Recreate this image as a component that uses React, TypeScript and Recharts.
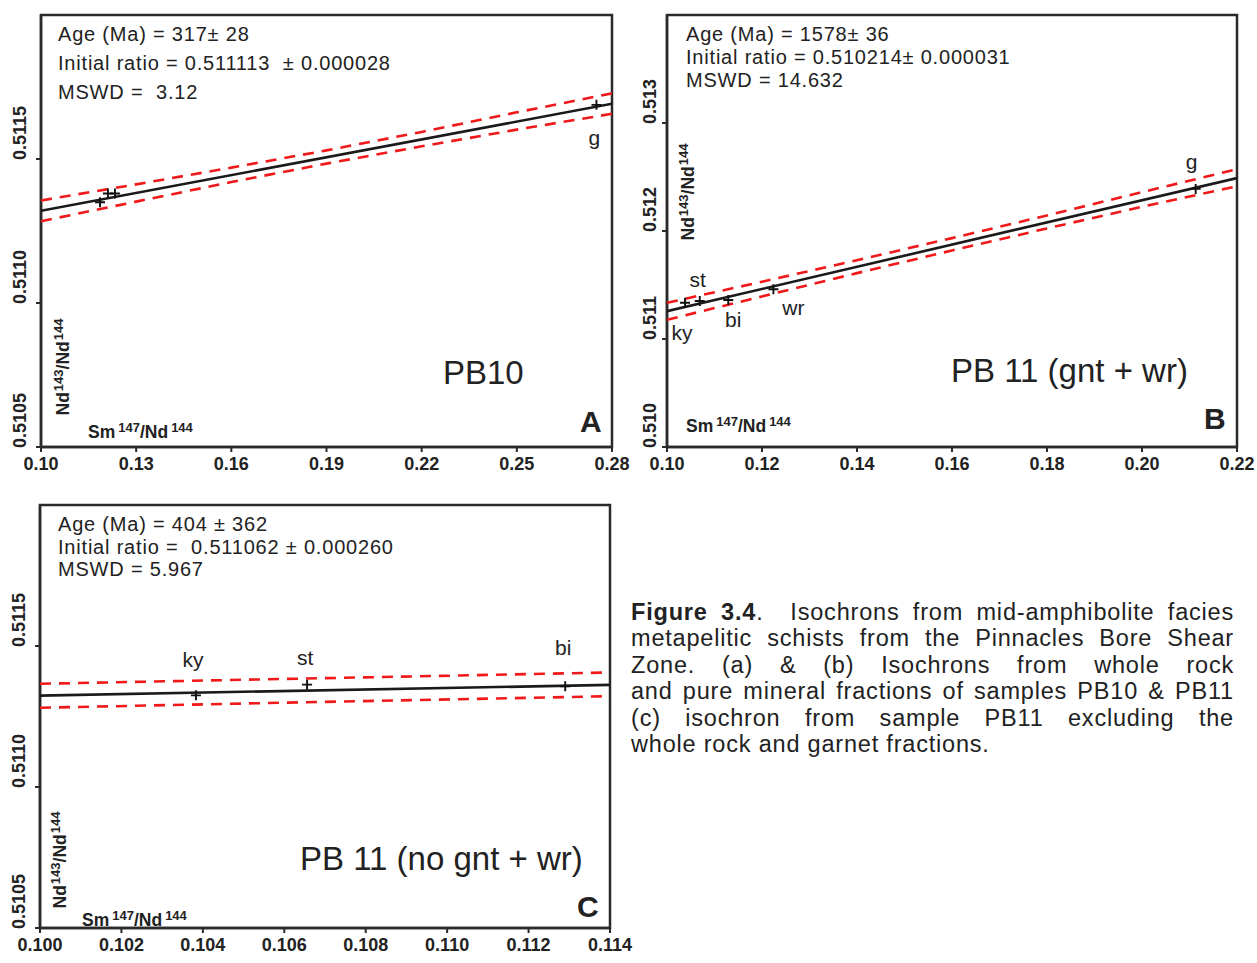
import React from 'react';
import { ScatterChart, Scatter, XAxis, YAxis, ReferenceArea } from 'recharts';

const FONT = '"Liberation Sans", Arial, Helvetica, sans-serif';
const INK = '#222';
const RED = '#f01818';

// ---------- Panel A (PB10) ----------
const xTicksA = [0.1, 0.13, 0.16, 0.19, 0.22, 0.25, 0.28];
const yTicksA = [0.5105, 0.511, 0.5115];
const isoA_x = [0.1, 0.28];
const isoA_y = [0.51132, 0.511692];
const envA_x = [0.1, 0.13, 0.16, 0.19, 0.22, 0.25, 0.28];
const envA_upper = [0.511356, 0.511412, 0.51147, 0.51153, 0.511594, 0.511662, 0.511728];
const envA_lower = [0.511284, 0.511352, 0.51142, 0.511484, 0.511544, 0.511602, 0.511657];
const ptsA_label = ['', '', '', 'g'];
const ptsA_x = [0.1186, 0.1211, 0.1233, 0.2751];
const ptsA_y = [0.51135, 0.51138, 0.51138, 0.511688];

// ---------- Panel B (PB 11 gnt + wr) ----------
const xTicksB = [0.1, 0.12, 0.14, 0.16, 0.18, 0.2, 0.22];
const yTicksB = [0.51, 0.511, 0.512, 0.513];
const isoB_x = [0.1, 0.22];
const isoB_y = [0.511258, 0.51249];
const envB_x = [0.1, 0.12, 0.14, 0.16, 0.18, 0.2, 0.22];
const envB_upper = [0.511335, 0.51153, 0.51173, 0.511934, 0.512144, 0.51236, 0.512572];
const envB_lower = [0.511178, 0.511394, 0.51161, 0.51182, 0.512024, 0.512224, 0.512414];
const ptsB_label = ['ky', 'st', 'bi', 'wr', 'g'];
const ptsB_x = [0.1038, 0.1069, 0.1129, 0.1224, 0.2113];
const ptsB_y = [0.511336, 0.511352, 0.511361, 0.51146, 0.51239];

// ---------- Panel C (PB 11 no gnt + wr) ----------
const xTicksC = [0.1, 0.102, 0.104, 0.106, 0.108, 0.11, 0.112, 0.114];
const yTicksC = [0.5105, 0.511, 0.5115];
const isoC_x = [0.1, 0.114];
const isoC_y = [0.511324, 0.511362];
const envC_x = [0.1, 0.107, 0.114];
const envC_upper = [0.511366, 0.511386, 0.511406];
const envC_lower = [0.511281, 0.511302, 0.511322];
const ptsC_label = ['ky', 'st', 'bi'];
const ptsC_x = [0.10383, 0.10656, 0.1129];
const ptsC_y = [0.511325, 0.511363, 0.511357];

const zip = (xs: number[], ys: number[], labels?: string[]) =>
  xs.map((x, i) => ({ x, y: ys[i], label: labels ? labels[i] : '' }));

// label placement (style), keyed by point label
const labelOffsetsA: Record<string, [number, number]> = { g: [-2, 33] };
const labelOffsetsB: Record<string, [number, number]> = {
  ky: [-3, 30],
  st: [-2, -21],
  bi: [5, 19],
  wr: [20, 18],
  g: [-4, -27],
};
const labelOffsetsC: Record<string, [number, number]> = {
  ky: [-3, -36],
  st: [-2, -27],
  bi: [-2, -39],
};

const NoShape = () => <g />;

const makeCross = (offsets: Record<string, [number, number]>) => (props: any) => {
  const { cx, cy, payload } = props;
  if (cx == null || cy == null) return <g />;
  const off = payload && payload.label ? offsets[payload.label] : undefined;
  return (
    <g>
      <path
        d={`M${cx - 5},${cy}H${cx + 5}M${cx},${cy - 5}V${cy + 5}`}
        stroke="#111"
        strokeWidth={1.9}
        fill="none"
      />
      {off && (
        <text
          x={cx + off[0]}
          y={cy + off[1]}
          textAnchor="middle"
          dominantBaseline="central"
          fontFamily={FONT}
          fontSize={21}
          fill={INK}
        >
          {payload.label}
        </text>
      )}
    </g>
  );
};

const makeYTick = (digits: number, gap: number) => (props: any) => {
  const { x, y, payload } = props;
  const bx = x - gap;
  return (
    <text
      x={bx}
      y={y + 1}
      transform={`rotate(-90 ${bx} ${y + 1})`}
      textAnchor="start"
      fontFamily={FONT}
      fontSize={18}
      fontWeight={700}
      fill={INK}
    >
      {Number(payload.value).toFixed(digits)}
    </text>
  );
};

type Pt = { x: number; y: number; label: string };
type PanelProps = {
  width: number;
  height: number;
  margin: { top: number; right: number; bottom: number; left: number };
  yAxisWidth: number;
  xDomain: [number, number];
  yDomain: [number, number];
  xTicks: number[];
  yTicks: number[];
  xDigits: number;
  yDigits: number;
  yGap: number;
  iso: Pt[];
  upper: Pt[];
  lower: Pt[];
  pts: Pt[];
  offsets: Record<string, [number, number]>;
};

const Panel = (p: PanelProps) => {
  const axisStroke = { stroke: '#2a2a2a', strokeWidth: 2.5 };
  return (
    <ScatterChart width={p.width} height={p.height} margin={p.margin}>
      <XAxis
        type="number"
        dataKey="x"
        domain={p.xDomain}
        ticks={p.xTicks}
        interval={0}
        allowDataOverflow
        height={30}
        tickSize={5}
        tickMargin={5}
        axisLine={axisStroke}
        tickLine={{ stroke: '#2a2a2a', strokeWidth: 2 }}
        tickFormatter={(v: number) => v.toFixed(p.xDigits)}
        tick={{ fontFamily: FONT, fontSize: 18, fontWeight: 700, fill: INK }}
      />
      <YAxis
        type="number"
        dataKey="y"
        domain={p.yDomain}
        ticks={p.yTicks}
        interval={0}
        allowDataOverflow
        width={p.yAxisWidth}
        tickSize={5}
        tickMargin={2}
        axisLine={axisStroke}
        tickLine={{ stroke: '#2a2a2a', strokeWidth: 2 }}
        tick={makeYTick(p.yDigits, p.yGap)}
      />
      <ReferenceArea
        x1={p.xDomain[0]}
        x2={p.xDomain[1]}
        y1={p.yDomain[0]}
        y2={p.yDomain[1]}
        fill="none"
        stroke="#2a2a2a"
        strokeWidth={2.5}
        ifOverflow="visible"
      />
      <Scatter
        data={p.upper}
        line={{ stroke: RED, strokeWidth: 2.6, strokeDasharray: '11 8' }}
        shape={NoShape}
        isAnimationActive={false}
      />
      <Scatter
        data={p.lower}
        line={{ stroke: RED, strokeWidth: 2.6, strokeDasharray: '11 8' }}
        shape={NoShape}
        isAnimationActive={false}
      />
      <Scatter
        data={p.iso}
        line={{ stroke: '#1a1a1a', strokeWidth: 2.6 }}
        shape={NoShape}
        isAnimationActive={false}
      />
      <Scatter data={p.pts} shape={makeCross(p.offsets)} isAnimationActive={false} />
    </ScatterChart>
  );
};

const Txt = (props: {
  left: number;
  cy: number;
  size: number;
  weight?: number;
  children: React.ReactNode;
}) => (
  <div
    style={{
      position: 'absolute',
      left: props.left,
      top: props.cy - 0.4885 * props.size,
      fontSize: props.size,
      lineHeight: `${props.size}px`,
      fontWeight: props.weight || 400,
      fontFamily: FONT,
      color: INK,
      whiteSpace: 'pre',
    }}
  >
    {props.children}
  </div>
);

// multi-line annotation block; each line is placed by its own centre line
const Block = (props: { left: number; cy0: number; step: number; lines: string[] }) => (
  <>
    {props.lines.map((l, i) => (
      <div
        key={i}
        style={{
          position: 'absolute',
          left: props.left,
          top: props.cy0 + i * props.step - 0.4885 * 20,
          fontSize: 20,
          letterSpacing: 0.8,
          lineHeight: '20px',
          fontFamily: FONT,
          color: INK,
          whiteSpace: 'pre',
        }}
      >
        {l}
      </div>
    ))}
  </>
);

const SmLabel = (props: { left: number; cy: number }) => (
  <Txt left={props.left} cy={props.cy} size={17.5} weight={700}>
    <span>
      Sm<span style={{ fontSize: 13, verticalAlign: 6, marginLeft: 3 }}>147</span>/Nd
      <span style={{ fontSize: 13, verticalAlign: 6, marginLeft: 3 }}>144</span>
    </span>
  </Txt>
);

const NdLabel = (props: { cx: number; cy: number }) => (
  <div
    style={{
      position: 'absolute',
      left: props.cx,
      top: props.cy,
      transform: 'translate(-50%, -50%) rotate(-90deg)',
      fontSize: 17.5,
      lineHeight: '22px',
      fontWeight: 700,
      fontFamily: FONT,
      color: INK,
      whiteSpace: 'pre',
    }}
  >
    Nd<span style={{ fontSize: 13, verticalAlign: 6, marginLeft: 1 }}>143</span>/Nd
    <span style={{ fontSize: 13, verticalAlign: 6, marginLeft: 1 }}>144</span>
  </div>
);

const captionLines = [
  'Isochrons from mid-amphibolite facies',
  'metapelitic schists from the Pinnacles Bore Shear',
  'Zone. (a) & (b) Isochrons from whole rock',
  'and pure mineral fractions of samples PB10 & PB11',
  '(c) isochron from sample PB11 excluding the',
  'whole rock and garnet fractions.',
];

const Caption = () => (
  <div
    style={{
      position: 'absolute',
      left: 631,
      top: 598.5,
      width: 603,
      fontSize: 23.5,
      letterSpacing: 0.8,
      lineHeight: '26.6px',
      fontFamily: FONT,
      color: INK,
    }}
  >
    {captionLines.map((l, i) => {
      const last = i === captionLines.length - 1;
      return (
        <div
          key={i}
          style={{ textAlign: last ? 'left' : 'justify', textAlignLast: last ? 'left' : 'justify' }}
        >
          {i === 0 ? (
            <>
              <b>Figure 3.4</b>.{'\u00a0\u00a0'}
              {l}
            </>
          ) : (
            l
          )}
        </div>
      );
    })}
  </div>
);

export default function App() {
  return (
    <div
      style={{
        position: 'absolute',
        left: 0,
        top: 0,
        width: 1257,
        height: 963,
        background: '#fff',
        overflow: 'hidden',
      }}
    >
      <div style={{ position: 'absolute', left: 0, top: 0 }}>
        <Panel
          width={640}
          height={490}
          margin={{ top: 15, right: 28, bottom: 13, left: 0 }}
          yAxisWidth={41}
          xDomain={[0.1, 0.28]}
          yDomain={[0.5105, 0.512]}
          xTicks={xTicksA}
          yTicks={yTicksA}
          xDigits={2}
          yDigits={4}
          yGap={8}
          iso={zip(isoA_x, isoA_y)}
          upper={zip(envA_x, envA_upper)}
          lower={zip(envA_x, envA_lower)}
          pts={zip(ptsA_x, ptsA_y, ptsA_label)}
          offsets={labelOffsetsA}
        />
      </div>
      <div style={{ position: 'absolute', left: 630, top: 0 }}>
        <Panel
          width={627}
          height={490}
          margin={{ top: 15, right: 20, bottom: 13, left: 0 }}
          yAxisWidth={37}
          xDomain={[0.1, 0.22]}
          yDomain={[0.51, 0.514]}
          xTicks={xTicksB}
          yTicks={yTicksB}
          xDigits={2}
          yDigits={3}
          yGap={4}
          iso={zip(isoB_x, isoB_y)}
          upper={zip(envB_x, envB_upper)}
          lower={zip(envB_x, envB_lower)}
          pts={zip(ptsB_x, ptsB_y, ptsB_label)}
          offsets={labelOffsetsB}
        />
      </div>
      <div style={{ position: 'absolute', left: 0, top: 490 }}>
        <Panel
          width={640}
          height={473}
          margin={{ top: 15, right: 30, bottom: 5, left: 0 }}
          yAxisWidth={40}
          xDomain={[0.1, 0.114]}
          yDomain={[0.5105, 0.512]}
          xTicks={xTicksC}
          yTicks={yTicksC}
          xDigits={3}
          yDigits={4}
          yGap={8}
          iso={zip(isoC_x, isoC_y)}
          upper={zip(envC_x, envC_upper)}
          lower={zip(envC_x, envC_lower)}
          pts={zip(ptsC_x, ptsC_y, ptsC_label)}
          offsets={labelOffsetsC}
        />
      </div>

      {/* Panel A annotations */}
      <Block
        left={58}
        cy0={34}
        step={28.8}
        lines={['Age (Ma) = 317\u00b1 28', 'Initial ratio = 0.511113  \u00b1 0.000028', 'MSWD =  3.12']}
      />
      <Txt left={443} cy={372} size={33}>PB10</Txt>
      <Txt left={580} cy={422} size={30} weight={700}>A</Txt>
      <SmLabel left={88} cy={428} />
      <NdLabel cx={61} cy={367} />

      {/* Panel B annotations */}
      <Block
        left={686}
        cy0={34}
        step={23}
        lines={['Age (Ma) = 1578\u00b1 36', 'Initial ratio = 0.510214\u00b1 0.000031', 'MSWD = 14.632']}
      />
      <Txt left={951} cy={370} size={33}>PB 11 (gnt + wr)</Txt>
      <Txt left={1204} cy={419} size={30} weight={700}>B</Txt>
      <SmLabel left={686} cy={422} />
      <NdLabel cx={686} cy={192} />

      {/* Panel C annotations */}
      <Block
        left={58}
        cy0={524}
        step={22.5}
        lines={['Age (Ma) = 404 \u00b1 362', 'Initial ratio =  0.511062 \u00b1 0.000260', 'MSWD = 5.967']}
      />
      <Txt left={300} cy={858} size={33}>PB 11 (no gnt + wr)</Txt>
      <Txt left={577} cy={907} size={30} weight={700}>C</Txt>
      <SmLabel left={82} cy={916} />
      <NdLabel cx={58} cy={860} />

      <Caption />
    </div>
  );
}
